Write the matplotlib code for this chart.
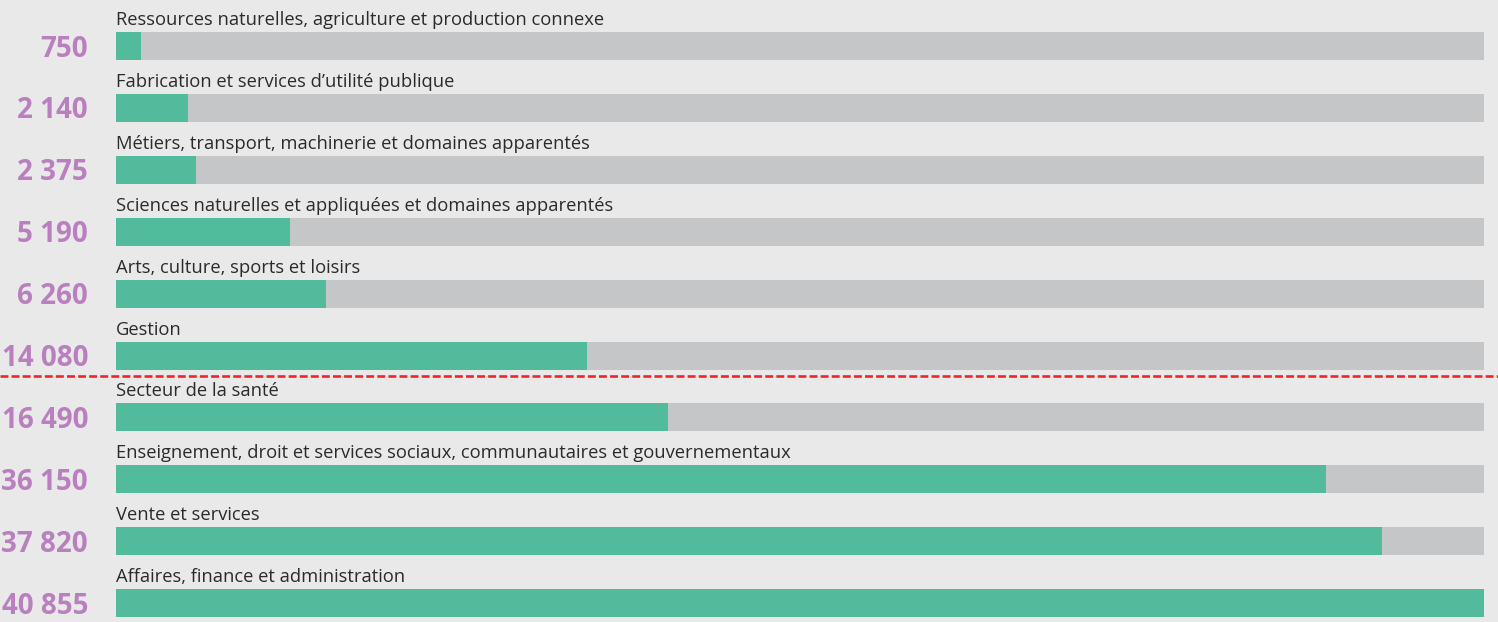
import matplotlib
matplotlib.use("Agg")
import matplotlib.pyplot as plt
import matplotlib.transforms as mtransforms

categories = [
    "Ressources naturelles, agriculture et production connexe",
    "Fabrication et services d’utilité publique",
    "Métiers, transport, machinerie et domaines apparentés",
    "Sciences naturelles et appliquées et domaines apparentés",
    "Arts, culture, sports et loisirs",
    "Gestion",
    "Secteur de la santé",
    "Enseignement, droit et services sociaux, communautaires et gouvernementaux",
    "Vente et services",
    "Affaires, finance et administration",
]
values = [750, 2140, 2375, 5190, 6260, 14080, 16490, 36150, 37820, 40855]
value_labels = ["750", "2 140", "2 375", "5 190", "6 260", "14 080",
                "16 490", "36 150", "37 820", "40 855"]
max_value = 40855

BG = "#e9e9e9"
TRACK = "#c5c6c8"
GREEN = "#52bb9c"
PURPLE = "#b97fbe"
TEXT = "#2b2b2b"
RED = "#f0242b"

W, H = 1498, 622
fig = plt.figure(figsize=(W / 100, H / 100), dpi=100, facecolor=BG)
ax = fig.add_axes([116 / W, 0, 1368 / W, 1])
ax.set_facecolor(BG)

step = 61.9
top = 46.0
ax.set_ylim((H - top) / step, -top / step)
ax.set_xlim(0, max_value)
ax.axis("off")

n = len(categories)
ys = list(range(n))
bh = 28 / step
ax.barh(ys, [max_value] * n, height=bh, color=TRACK, linewidth=0)
ax.barh(ys, values, height=bh, color=GREEN, linewidth=0)

trans_val = mtransforms.blended_transform_factory(fig.transFigure, ax.transData)
for i, (cat, lab) in enumerate(zip(categories, value_labels)):
    ax.text(0, i - 21 / step, cat, ha="left", va="baseline",
            fontsize=13.2, family="Open Sans", color=TEXT)
    ax.text(88 / W, i + 10.5 / step, lab, transform=trans_val, ha="right",
            va="baseline", fontsize=20, family="Open Sans",
            fontweight="bold", color=PURPLE)

ax.axhline(5 + (376 - 355.5) / step, xmin=-116 / 1368, xmax=(W - 116) / 1368,
           color=RED, linewidth=1.9, dashes=(3.0, 1.2), clip_on=False)

fig.savefig("out.png", dpi=100, facecolor=BG)
